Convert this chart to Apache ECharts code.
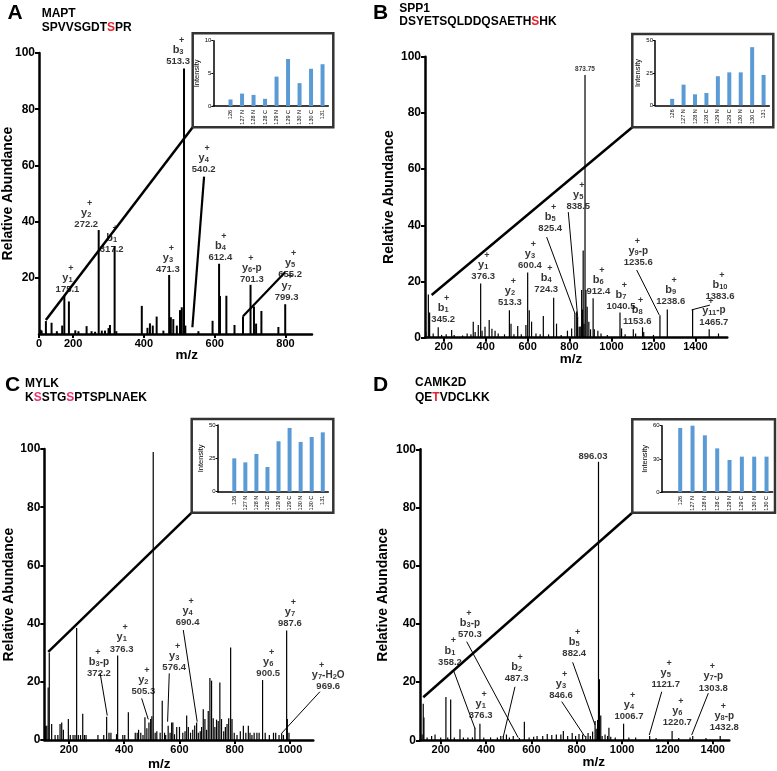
<!DOCTYPE html>
<html>
<head>
<meta charset="utf-8">
<script src="https://cdn.jsdelivr.net/npm/echarts@6/dist/echarts.min.js"></script>
<style>
html, body { margin: 0; padding: 0; background: #fff; }
#chart { width: 777px; height: 771px; }
</style>
</head>
<body>
<div id="chart"></div>
<script>
// ---- spectra: [m/z, relative abundance] ----
var peaksA = [[108,1.5],[111,1.2],[123,4.6],[139,4.0],[154,1.0],[169,3.0],[175.1,13.5],[188,11.6],[206,1.3],[215,1.0],[238,2.8],[252,1.0],[262,0.8],
  [272.2,37],[281,1.2],[290,1.2],[300,2.1],[304,3.2],[317.2,31.3],[322,1.0],[394,10],[410,2.2],[417,3.8],[425,3.0],[436,6.2],[455,1.2],
  [471.3,21],[476,6],[483,5.3],[493,3],[502,8.5],[507,9.5],[513.3,94.5],[517,3],[554,1],[594,4.7],[612.4,25],[615,13.5],[633,13.6],
  [656,3.2],[680,6.3],[701.3,17.5],[711,9.8],[717,3.7],[732,8.2],[780,2.5],[799.3,10.6]];
var peaksB = [[115,2],[127,15.4],[133,9],[150,1.5],[174,3.7],[190,1],[212,1.2],[238,2.7],[250,1.0],[290,0.8],[312,1.5],[330,1.2],[341,5.7],
  [350,2],[365,4.5],[376.3,19.3],[383,2.5],[397,3.9],[417,6.3],[430,3.2],[445,2.5],[460,1.5],[490,1.2],[513.3,9.8],[521,5],[535,1.2],
  [553,4.2],[570,1.2],[592,4.5],[600.4,23.2],[608,9.8],[619,5.7],[640,1.5],[660,1.2],[675,7.7],[700,1.2],[724.3,14.2],[738,5],[760,1],
  [790,2.5],[810,3.3],[825.4,8.8],[834,9.3],[838.5,7.5],[846,3.9],[851,4],[857.7,17],[861,10],[865,31],[869,5],[873.75,93.5],[878,17],
  [884,11],[892,5.7],[900,3],[912.4,14],[918,3],[935,2.5],[950,1.5],[980,1],[1040.5,9],[1048,3.3],[1065,1.2],[1104,3],[1115,1.5],
  [1148,3.7],[1153.6,2],[1200,1],[1231,8],[1266,10],[1386.7,10],[1465.7,3],[1510,1.5]];
var peaksC = [[116,4.9],[120,4.9],[125,18],[129,30],[137.6,5.5],[150,1.7],[160,1.7],[168,5.5],[174,6],[180,3.5],[198,7.2],[205,1.7],
  [215,1.7],[222,1.7],[228,38.5],[234,1.7],[242,1.7],[250,9],[256,1.7],[262,1.7],[305,1.7],[326,1.7],[336.5,8],[345,2.5],[352,2.5],
  [372.2,2],[376.3,29],[395,1.7],[402,1.7],[415,9.5],[440,2.5],[447,2.5],[452,3.5],[460,2.5],[468,1.7],[475,7.8],[482,4],[489.5,6],
  [495.7,7.2],[500,8.2],[505,99],[512,2.5],[518,3],[530,2.5],[537.6,13.5],[546,2.5],[550,1.7],[559,4.9],[566,2.5],[571.6,6],[576,6],
  [582,2],[590,4.5],[600,4.5],[612,2.5],[620,3],[626,8.4],[632,4.5],[640,2.5],[648,3.5],[655,5],[662,6],[668,2.5],[675,3],[680,4.5],
  [686,10.6],[692,7.2],[698,3.5],[704,10],[710,21.3],[716,20.4],[722,7.5],[728,4.5],[734,7],[740,6.5],[746,19.8],[752,7.2],[760,3],
  [766,4.5],[772,5.5],[778,7.5],[785,31.8],[790,7.2],[798,2.5],[808,1.7],[820,3],[831,4.9],[840,2.5],[849,4.9],[855,2.5],[862,1.7],
  [870,2.5],[880,2.5],[888,2.5],[900.5,20.6],[910,2.5],[925,1.7],[940,2.5],[948,2.5],[960,1.7],[969.6,2.3],[976,1.7],[987.6,37.6],
  [990,7.2],[996,2.5]];
var peaksD = [[118,2],[123,12.6],[126,7.8],[140,1],[160,1.5],[175,2],[200,1],[223,14.9],[231,1],[244,14],[260,1],[285,3.8],[300,1],
  [320,1],[340,1],[351,4.3],[373,5.7],[390,1],[420,1],[450,1],[465,1.5],[476,1.5],[490,2],[503,1],[520,1.5],[547,0.8],[569,6.4],
  [590,1],[610,1.2],[625,1.5],[650,1.5],[670,2.2],[690,1.8],[710,2],[730,2],[741,3.2],[760,1.5],[780,2.5],[795,1.5],[810,2.2],
  [826,2],[840,1.5],[850,2.5],[860,1.5],[870,3],[881,6.6],[886,4],[892,7],[896.03,95.7],[900,21],[906,8.5],[912,1.5],[925,2],
  [936,1.5],[942,4.3],[950,1.2],[970,1],[1006.7,5.7],[1030,1],[1060,1],[1121.7,1.5],[1150,0.8],[1220.7,3.2],[1250,0.8],[1300,1],
  [1311.7,1.5],[1370,0.8],[1432.8,1.5]];

// ---- fragment ion labels: [label m/z, label bottom, ion, index, suffix, m/z text] ----
var ionsA = [[496.6,95,'b','3','','513.3'],[569,56.6,'y','4','','540.2'],[237,37,'y','2','','272.2'],[309,28.1,'b','1','','317.2'],
  [184,13.9,'y','1','','175.1'],[467.8,21,'y','3','','471.3'],[616,25.2,'b','4','','612.4'],[705,17.4,'y','6','-p','701.3'],
  [813,19.2,'y','5','','655.2'],[803,10.9,'y','7','','799.3']];
var ionsB = [[388.7,19.9,'y','1','','376.3'],[198,4.5,'b','1','','345.2'],[516,10.7,'y','2','','513.3'],[611.3,23.7,'y','3','','600.4'],
  [689,15.2,'b','4','','724.3'],[708,36.9,'b','5','','825.4'],[841.6,44.6,'y','5','','838.5'],[937,14.4,'b','6','','912.4'],
  [1045,9.3,'b','7','','1040.5'],[1122.7,3.9,'b','8','','1153.6'],[1127.6,24.7,'y','9','-p','1235.6'],[1282,11,'b','9','','1238.6'],
  [1517,12.8,'b','10','','1383.6'],[1488,3.6,'y','11','-p','1465.7']];
var ionsC = [[390.8,29.4,'y','1','','376.3'],[308.7,20.9,'b','3','-p','372.2'],[469,14.7,'y','2','','505.3'],[581,23.1,'y','3','','576.4'],
  [629.5,38.4,'y','4','','690.4'],[921,21,'y','6','','900.5'],[999.5,38.1,'y','7','','987.6'],[1138,16.4,'y','7','-H_2O','969.6']];
var ionsD = [[241,25,'b','1','','358.2'],[329,34.5,'b','3','-p','570.3'],[376.4,6.6,'y','1','','376.3'],[535,19.3,'b','2','','487.3'],
  [730.7,13.6,'y','3','','846.6'],[789,27.9,'b','5','','882.4'],[1030.6,6.4,'y','4','','1006.7'],[1192.5,17.3,'y','5','','1121.7'],
  [1243.7,4.1,'y','6','','1220.7'],[1402.5,16.1,'y','7','-p','1303.8'],[1451,2.4,'y','8','-p','1432.8']];
var topB = [873.75, 94.2, '873.75'];
var topD = [871.8, 95.8, '896.03'];

// ---- leader lines (label -> peak), data coords ----
var leadersA = [[[537,2.4],[570,56]],[[680,6.3],[799,22]]];
var leadersB = [[[690.9,35.8],[825.4,8.7]],[[794,44.7],[838.5,7.5]],[[1119.9,24.1],[1227.6,8.1]],[[1382,9.9],[1469,11.6]]];
var leadersC = [[[313,22.9],[338.7,8.4]],[[463.1,14.3],[487,7.1]],[[563,22.9],[557,6.3]],[[613.6,37.8],[664,6.3]],[[1108,16.6],[969.4,2.3]]];
var leadersD = [[[255.6,24.2],[351,4.1]],[[314.7,33.9],[542,0.9]],[[527.7,18.4],[476,1.2]],[[733.8,13.3],[836.5,1.2]],
  [[782,26.8],[880.6,5.3]],[[1175,16.7],[1120,1.8]],[[1380.5,16.2],[1307,1.8]]];
// start of the zoom line to the reporter-ion inset
var connA = [123, 5], connB = [142.7, 15.2], connC = [125.3, 30.3], connD = [123, 14.8];

// ---- axis ticks ----
var xTicksA = [103.5, 200, 400, 600, 800];
var xTicksB = [200, 400, 600, 800, 1000, 1200, 1400];
var xTicksC = [200, 400, 600, 800, 1000];
var xTicksD = [200, 400, 600, 800, 1000, 1200, 1400];
var yTicksA = [20, 40, 60, 80, 100];
var yTicksBCD = [0, 20, 40, 60, 80, 100];

// ---- TMT reporter insets ----
var catsA = ['126','127 N','128 N','128 C','129 N','129 C','130 N','130 C','131'];
var catsB = catsA, catsC = catsA;
var catsD = ['126','127 N','128 N','128 C','129 N','129 C','130 N','130 C'];
var insetA = [1.0, 1.9, 1.7, 1.1, 4.5, 7.2, 3.5, 5.7, 6.4];
var insetB = [5, 16, 8.5, 9.5, 22.5, 25.5, 25.5, 45, 23.5];
var insetC = [25, 22, 28.3, 18.5, 37.8, 47.8, 37.3, 41, 44.5];
var insetD = [57.9, 60, 51.3, 39.5, 29, 32, 32, 32];

var FONT = '"Liberation Sans", Arial, Helvetica, sans-serif';

var panels = [
  {peaks: peaksA, ions: ionsA, leaders: leadersA, conn: connA, xt: xTicksA, yt: yTicksA, cats: catsA, vals: insetA,
   grid: {left: 39, top: 53, width: 273, height: 281}, xr: [103.5, 875], stick: 2, lead: 2.2,
   frame: [192.7, 33.3, 140.6, 94], inset: {left: 213.3, top: 40.7, width: 115, height: 65.3}, imax: 10, istep: 5,
   letter: ['A', 15, 13.5], prot: ['MAPT', 41.7, 13.3], seq: ['{k|SPVVSGDT}{r|S}{k|PR}', 41.7, 27.8], red: '#e5242b',
   yname: [8.5, 193.5], mz: [186.7, 355.7]},
  {peaks: peaksB, ions: ionsB, leaders: leadersB, conn: connB, xt: xTicksB, yt: yTicksBCD, cats: catsB, vals: insetB,
   grid: {left: 425, top: 56.7, width: 302.3, height: 281}, xr: [111, 1552], stick: 1.2, lead: 1,
   frame: [632.3, 34, 141, 93.3], inset: {left: 655, top: 40.7, width: 114.3, height: 64.6}, imax: 50, istep: 25,
   letter: ['B', 380.5, 13.3], prot: ['SPP1', 399.3, 8.3], seq: ['{k|DSYETSQLDDQSAETH}{r|S}{k|HK}', 399.3, 21.3], red: '#e5242b',
   yname: [389, 197], mz: [571, 359]},
  {peaks: peaksC, ions: ionsC, leaders: leadersC, conn: connC, xt: xTicksC, yt: yTicksBCD, cats: catsC, vals: insetC,
   grid: {left: 44.3, top: 449, width: 269, height: 291}, xr: [111, 1084], stick: 1.2, lead: 1,
   frame: [191.7, 419, 141.6, 93.7], inset: {left: 217.7, top: 425, width: 110.6, height: 66.7}, imax: 50, istep: 25,
   letter: ['C', 12.5, 385], prot: ['MYLK', 25, 383.3], seq: ['{k|K}{r|S}{k|STG}{r|S}{k|PTSPLNAEK}', 25, 397.8], red: '#e8336d',
   yname: [9.2, 594.5], mz: [159.3, 764]},
  {peaks: peaksD, ions: ionsD, leaders: leadersD, conn: connD, xt: xTicksD, yt: yTicksBCD, cats: catsD, vals: insetD,
   grid: {left: 420, top: 449.3, width: 309.3, height: 291}, xr: [108.7, 1473], stick: 1.2, lead: 1,
   frame: [632.3, 419.3, 142.7, 93.4], inset: {left: 661.7, top: 425.7, width: 111, height: 66.3}, imax: 60, istep: 30,
   letter: ['D', 380.5, 385], prot: ['CAMK2D', 415, 383], seq: ['{k|QE}{r|T}{k|VDCLKK}', 415, 398], red: '#e5242b',
   yname: [383.3, 594.8], mz: [593.7, 762]}
];

// rough bold Arial width, used to sit the "+" over the subscript
function tw(s, size) {
  var w = 0;
  for (var i = 0; i < s.length; i++) {
    var c = s[i];
    w += (c === '.' || c === '-') ? 0.333 : (/[0-9]/.test(c) ? 0.556 : 0.62);
  }
  return w * size;
}

var rich = {
  ion: {fontSize: 11, fontWeight: 'bold', lineHeight: 12},
  sub: {fontSize: 7.5, fontWeight: 'bold', lineHeight: 8, verticalAlign: 'bottom'},
  sfx: {fontSize: 10, fontWeight: 'bold', lineHeight: 12},
  num: {fontSize: 9.5, fontWeight: 'bold', lineHeight: 11},
  sm: {fontSize: 6.5, fontWeight: 'bold', lineHeight: 8},
  md: {fontSize: 9.5, fontWeight: 'bold', lineHeight: 11}
};

function ionLabel(d) {
  var plain = d[4].replace('_', '');
  var left = Math.round(tw(d[2], 11));
  var right = Math.max(0, Math.round(tw(d[3], 7.5) + tw(plain, 10) - 5));
  var key = 'p' + left + '_' + right;
  if (!rich[key]) rich[key] = {fontSize: 9, fontWeight: 'bold', lineHeight: 7, padding: [0, right, 0, left]};
  var sfx = d[4] ? '{sfx|' + d[4].replace(/_(\d)/g, '}{sub|$1}{sfx|') + '}' : '';
  return '{' + key + '|+}\n{ion|' + d[2] + '}{sub|' + d[3] + '}' + sfx + '\n{num|' + d[5] + '}';
}

// main grids are 0-3, insets 4-7
var grids = [], xAxes = [], yAxes = [], series = [];

panels.forEach(function (p, i) {
  grids[i] = Object.assign({}, p.grid);
  grids[4 + i] = Object.assign({}, p.inset);
  xAxes[i] = {
    type: 'value', gridIndex: i, min: p.xr[0], max: p.xr[1], splitLine: {show: false},
    axisLine: {onZero: false, lineStyle: {color: '#000', width: 2.5}},
    axisTick: {show: true, length: 4, lineStyle: {width: 2, color: '#000'}, customValues: p.xt},
    axisLabel: {customValues: p.xt, color: '#000', fontFamily: FONT, fontWeight: 'bold', fontSize: 11, margin: 4,
      formatter: function (v) { return v < 150 ? '0' : String(v); }}
  };
  yAxes[i] = {
    type: 'value', gridIndex: i, min: 0, max: 100, splitLine: {show: false},
    axisLine: {show: true, onZero: false, lineStyle: {color: '#000', width: 2.5}},
    axisTick: {show: true, length: 4, lineStyle: {width: 2, color: '#000'}, customValues: p.yt},
    axisLabel: {customValues: p.yt, color: '#000', fontFamily: FONT, fontWeight: 'bold', fontSize: 12, margin: 4}
  };
  xAxes[4 + i] = {
    type: 'category', gridIndex: 4 + i, data: [''].concat(p.cats), z: 10,
    axisLine: {lineStyle: {color: '#000', width: 1.5}}, axisTick: {show: false},
    axisLabel: {interval: 0, rotate: 90, fontSize: 5.5, color: '#000', fontFamily: FONT, margin: 4}
  };
  yAxes[4 + i] = {
    type: 'value', gridIndex: 4 + i, min: 0, max: p.imax, interval: p.istep, z: 10, splitLine: {show: false},
    name: 'Intensity', nameLocation: 'middle', nameGap: 10,
    nameTextStyle: {fontSize: 7.5, color: '#000', fontFamily: FONT},
    axisLine: {show: true, lineStyle: {color: '#000', width: 1.5}},
    axisTick: {show: true, length: 2, lineStyle: {width: 1, color: '#000'}},
    axisLabel: {fontSize: 6, color: '#000', fontFamily: FONT, margin: 2}
  };

  series.push({
    type: 'custom', xAxisIndex: i, yAxisIndex: i, data: p.peaks, silent: true, z: 2,
    renderItem: (function (w) {
      return function (params, api) {
        var a = api.coord([api.value(0), 0]);
        var b = api.coord([api.value(0), api.value(1)]);
        return {type: 'line', shape: {x1: a[0], y1: a[1], x2: b[0], y2: b[1]}, style: {stroke: '#000', lineWidth: w}};
      };
    })(p.stick)
  });
  series.push({
    type: 'lines', coordinateSystem: 'cartesian2d', xAxisIndex: i, yAxisIndex: i, silent: true, z: 4, clip: false,
    data: p.leaders.map(function (l) { return {coords: l}; }),
    lineStyle: {color: '#000', width: p.lead, opacity: 1}
  });
  var labelData = p.ions.map(function (d) { return {value: [d[0], d[1]], name: ionLabel(d)}; });
  if (i === 1) labelData.push({value: [topB[0], topB[1]], name: '{sm|' + topB[2] + '}'});
  if (i === 3) labelData.push({value: [topD[0], topD[1]], name: '{md|' + topD[2] + '}'});
  series.push({
    type: 'scatter', xAxisIndex: i, yAxisIndex: i, silent: true, z: 5, clip: false, symbolSize: 0.1,
    itemStyle: {color: 'rgba(0,0,0,0)'}, data: labelData,
    label: {show: true, position: 'top', distance: 0, color: '#000', fontFamily: FONT, align: 'center',
      formatter: function (q) { return q.name; }, rich: rich}
  });
  series.push({
    type: 'bar', xAxisIndex: 4 + i, yAxisIndex: 4 + i, z: 10, barWidth: 4, silent: true,
    data: ['-'].concat(p.vals), itemStyle: {color: '#5b9bd5'}
  });
});

var chart = echarts.init(document.getElementById('chart'), null, {renderer: 'canvas'});
chart.setOption({
  animation: false,
  backgroundColor: '#fff',
  grid: grids, xAxis: xAxes, yAxis: yAxes, series: series
});

// frames, zoom lines and free text
var els = [];
panels.forEach(function (p, i) {
  var s = chart.convertToPixel({gridIndex: i}, p.conn);
  var f = p.frame;
  els.push({type: 'line', z: 3, silent: true, shape: {x1: s[0], y1: s[1], x2: f[0], y2: f[1] + f[3]},
    style: {stroke: '#000', lineWidth: 2.5}});
  els.push({type: 'rect', z: 3, silent: true, shape: {x: f[0], y: f[1], width: f[2], height: f[3]},
    style: {fill: '#fff', stroke: '#333', lineWidth: 2.5}});
  els.push({type: 'text', z: 6, x: p.letter[1], y: p.letter[2],
    style: {text: p.letter[0], font: 'bold 21px ' + FONT, fill: '#000', align: 'center', verticalAlign: 'middle'}});
  els.push({type: 'text', z: 6, x: p.prot[1], y: p.prot[2],
    style: {text: p.prot[0], font: 'bold 12px ' + FONT, fill: '#000', align: 'left', verticalAlign: 'middle'}});
  els.push({type: 'text', z: 6, x: p.seq[1], y: p.seq[2],
    style: {text: p.seq[0], font: 'bold 12px ' + FONT, fill: '#000', align: 'left', verticalAlign: 'middle',
      rich: {k: {fill: '#000', font: 'bold 12px ' + FONT}, r: {fill: p.red, font: 'bold 12px ' + FONT}}}});
  els.push({type: 'text', z: 6, x: p.yname[0], y: p.yname[1], rotation: Math.PI / 2,
    style: {text: 'Relative Abundance', font: 'bold 14px ' + FONT, fill: '#000', align: 'center', verticalAlign: 'middle'}});
  els.push({type: 'text', z: 6, x: p.mz[0], y: p.mz[1],
    style: {text: 'm/z', font: 'bold 13.5px ' + FONT, fill: '#000', align: 'center', verticalAlign: 'middle'}});
});
chart.setOption({graphic: {elements: els}});
</script>
</body>
</html>
